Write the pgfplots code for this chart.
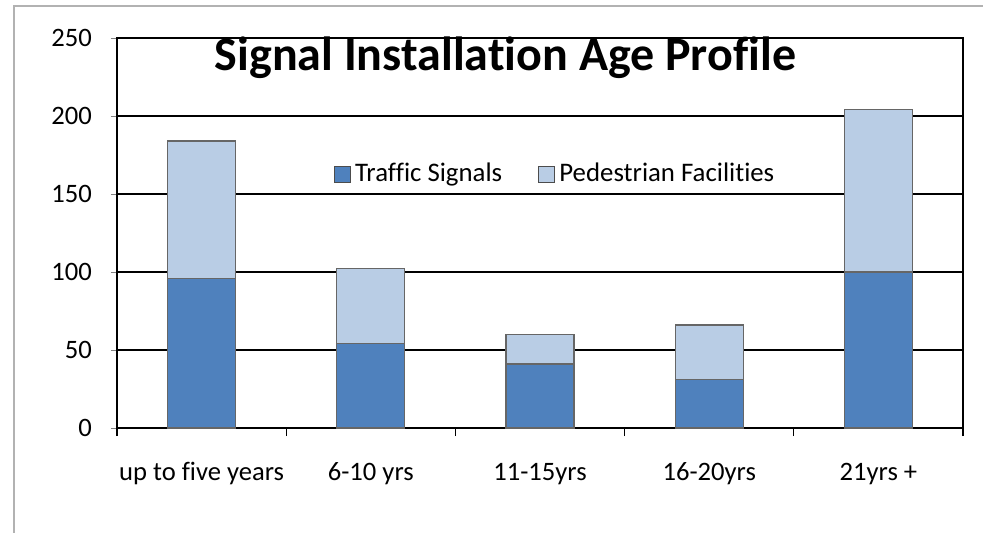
\documentclass[border=0pt]{standalone}
\usepackage{pgfplots}
\pgfplotsset{compat=1.18}
\usepackage{fontspec}
\setmainfont{Carlito}[Ligatures=NoCommon]
\definecolor{traffic}{HTML}{4F81BD}
\definecolor{ped}{HTML}{B9CDE5}
\begin{document}
\begin{tikzpicture}
\useasboundingbox (-58.5pt,-52pt) rectangle (433pt,214pt);
\draw[gray!60, line width=1.2pt] (-51.5pt,-70pt) rectangle (450pt,211pt);
\begin{axis}[
  at={(0pt,0pt)}, anchor=south west,
  scale only axis, width=423pt, height=195pt,
  ybar stacked, bar width=34pt,
  xmin=-0.5, xmax=4.5, ymin=0, ymax=250,
  xtick={0,1,2,3,4},
  xticklabels={up to five years,6-10 yrs,11-15yrs,16-20yrs,21yrs +},
  major x tick style={draw=none},
  minor xtick={-0.5,0.5,1.5,2.5,3.5,4.5},
  minor tick length=4pt,
  x tick style={black, line width=0.6pt},
  xtick pos=bottom, tickpos=left,
  xtick align=outside, ytick align=outside,
  major tick length=3pt,
  ytick={0,50,100,150,200,250},
  ymajorgrids, grid style={black, line width=0.8pt},
  axis line style={black, line width=0.8pt},
  ticklabel style={font=\fontsize{13.3}{15}\selectfont},
  xticklabel style={text height=1.6ex, text depth=0.5ex, yshift=-12pt},
  yticklabel style={xshift=-6pt},
  /pgf/number format/assume math mode=true,
  legend style={at={(rel axis cs:0.519,0.651)}, anchor=center, draw=none, fill=none,
    legend columns=2, font=\fontsize{13.4}{16}\selectfont,
    /tikz/every even column/.append style={column sep=16pt}},
  legend image code/.code={\draw[#1, draw=black!70] (0pt,-4pt) rectangle (8pt,4pt);},
  title style={font=\fontsize{24}{28}\selectfont\bfseries, at={(rel axis cs:0.459,0.951)}, anchor=center, yshift=-6.5pt},
  title={Signal Installation Age Profile},
]
\addplot[fill=traffic, draw=black!60, line width=0.6pt] coordinates {(0,96) (1,54) (2,41) (3,31) (4,100)};
\addplot[fill=ped, draw=black!60, line width=0.6pt] coordinates {(0,88) (1,48) (2,19) (3,35) (4,104)};
\legend{Traffic Signals, Pedestrian Facilities}
\end{axis}
\end{tikzpicture}
\end{document}
